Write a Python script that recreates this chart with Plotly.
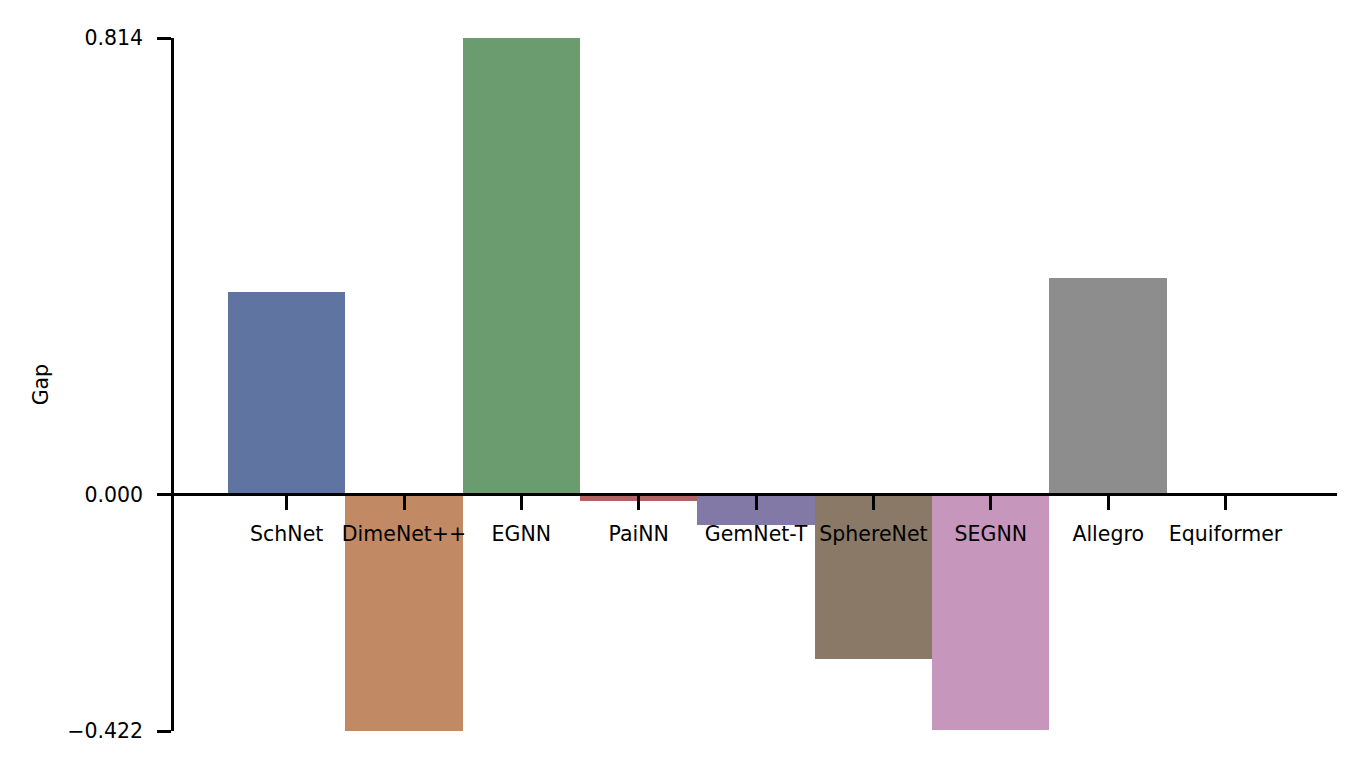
import plotly.graph_objects as go

# data
models = ["SchNet", "DimeNet++", "EGNN", "PaiNN", "GemNet-T",
          "SphereNet", "SEGNN", "Allegro", "Equiformer"]
gap = [0.361, -0.422, 0.814, -0.012, -0.054, -0.293, -0.420, 0.386, 0.0]
colors = ["#5f74a0", "#c18a65", "#6b9c6f", "#b06464", "#8379a6",
          "#8a7967", "#c696bc", "#8d8d8d", "#c8bb84"]

ymin, ymax = -0.422, 0.814
ytick_vals = [ymin, 0.0, ymax]
ytick_text = ["\u22120.422", "0.000", "0.814"]

xpos = list(range(len(models)))

fig = go.Figure()
fig.add_trace(go.Bar(
    x=xpos,
    y=gap,
    width=1.0,
    marker=dict(color=colors, line=dict(width=0)),
    showlegend=False,
))

# x axis line sits at y = 0
zero_frac = (0 - ymin) / (ymax - ymin)

fig.update_layout(
    width=1365, height=773,
    paper_bgcolor="white", plot_bgcolor="white",
    margin=dict(l=166, r=36, t=30, b=50),
    font=dict(family="DejaVu Sans", size=20.5, color="black"),
    bargap=0,
    xaxis=dict(
        range=[-0.96, 8.95],
        tickvals=xpos, ticktext=models,
        anchor="free", position=zero_frac,
        showline=True, linecolor="black", linewidth=2.5,
        ticks="outside", ticklen=14, tickwidth=2.5, tickcolor="black",
        showgrid=False, zeroline=False, automargin=False,
        tickfont=dict(size=20.5), ticklabelstandoff=6,
    ),
    yaxis=dict(
        range=[ymin, ymax],
        tickvals=ytick_vals, ticktext=ytick_text,
        showline=True, linecolor="black", linewidth=2.5,
        ticks="outside", ticklen=14, tickwidth=2.5, tickcolor="black",
        showgrid=False, zeroline=False, automargin=False,
        tickfont=dict(size=20.5), ticklabelstandoff=10,
    ),
    annotations=[dict(
        text="Gap", textangle=-90,
        xref="paper", yref="paper", x=-0.1145, y=0.5,
        xanchor="center", yanchor="middle", showarrow=False,
        font=dict(size=20.5),
    )],
)

fig.write_html("out.html")
